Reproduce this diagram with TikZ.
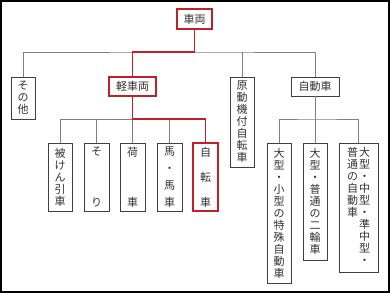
\documentclass[tikz,border=0pt]{standalone}
\usepackage{fontspec}
\setmainfont{Noto Sans CJK JP}
\definecolor{boxline}{HTML}{404040}
\definecolor{conn}{HTML}{808080}
\definecolor{hl}{HTML}{C0202A}
\newcommand{\distv}[1]{\parbox[c][59pt][s]{12pt}{\centering #1}}
\begin{document}
\begin{tikzpicture}[x=1pt,y=-1pt,
  every node/.style={font=\fontsize{11}{12}\selectfont, text=black!80, inner sep=0pt},
  boxn/.style={draw=boxline, line width=0.8pt, fill=white, align=center},
  redbox/.style={boxn, draw=hl, line width=1.4pt},
  line/.style={draw=conn, line width=0.8pt},
  redline/.style={draw=hl, line width=1.4pt}]
\useasboundingbox (0,0) rectangle (390,293);
\draw[line width=2pt, black] (1,1) rectangle (389,292);
% coordinates for buses
\coordinate (bus1) at (194.5,52);
\coordinate (bus2) at (132.5,119);
\coordinate (bus3) at (315,119);
% nodes
\node[redbox, minimum width=35, minimum height=20] (sharyo) at (194.5,19) {車両};
\node[boxn, minimum width=24, minimum height=42] (sonota) at (23,98) {そ\\の\\他};
\node[redbox, minimum width=47, minimum height=19] (kei) at (132.5,86.5) {軽車両};
\node[boxn, minimum width=24, minimum height=90] (gen) at (242,122) {原\\動\\機\\付\\自\\転\\車};
\node[boxn, minimum width=48, minimum height=19] (jido) at (315,86.5) {自動車};
\node[boxn, minimum width=24, minimum height=68] (hiken) at (60,177) {被\\け\\ん\\引\\車};
\node[boxn, minimum width=25, minimum height=68] (sori) at (96.5,177) {\distv{そ\par\vfill り}};
\node[boxn, minimum width=25, minimum height=68] (niguruma) at (132.5,177) {\distv{荷\par\vfill 車}};
\node[boxn, minimum width=25, minimum height=68] (basha) at (169.5,177) {\distv{馬\par\vfill ・\par\vfill 馬\par\vfill 車}};
\node[redbox, minimum width=25, minimum height=68] (jitensha) at (205.5,177) {\distv{自\par\vfill 転\par\vfill 車}};
\node[boxn, minimum width=24, minimum height=140] (tokushu) at (279,213) {大\\型\\・\\小\\型\\の\\特\\殊\\自\\動\\車};
\node[boxn, minimum width=24, minimum height=117] (nirin) at (315,201.5) {大\\型\\・\\普\\通\\の\\二\\輪\\車};
\node[boxn, minimum width=39, minimum height=129] (futsu) at (358.5,207.5) {\parbox[t][120pt][t]{12pt}{\centering 普\\通\\の\\自\\動\\車}\parbox[t][120pt][t]{12pt}{\centering 大\\型\\・\\中\\型\\・\\準\\中\\型\\・}};
% black connectors
\draw[line] (sonota.north) |- (bus1) -| (jido.north);
\draw[line] (gen.north) -- (gen.north |- bus1);
\draw[line] (hiken.north) |- (bus2);
\draw[line] (sori.north) -- (sori.north |- bus2);
\draw[line] (niguruma.north) -- (niguruma.north |- bus2);
\draw[line] (basha.north) -- (basha.north |- bus2);
\draw[line] (tokushu.north) |- (bus3) -| (futsu.north);
\draw[line] (jido.south) -- (nirin.north);
% red connectors
\draw[redline] (sharyo.south) |- (kei.north |- bus1) -- (kei.north);
\draw[redline] (kei.south) -- (bus2) -| (jitensha.north);
\end{tikzpicture}
\end{document}
